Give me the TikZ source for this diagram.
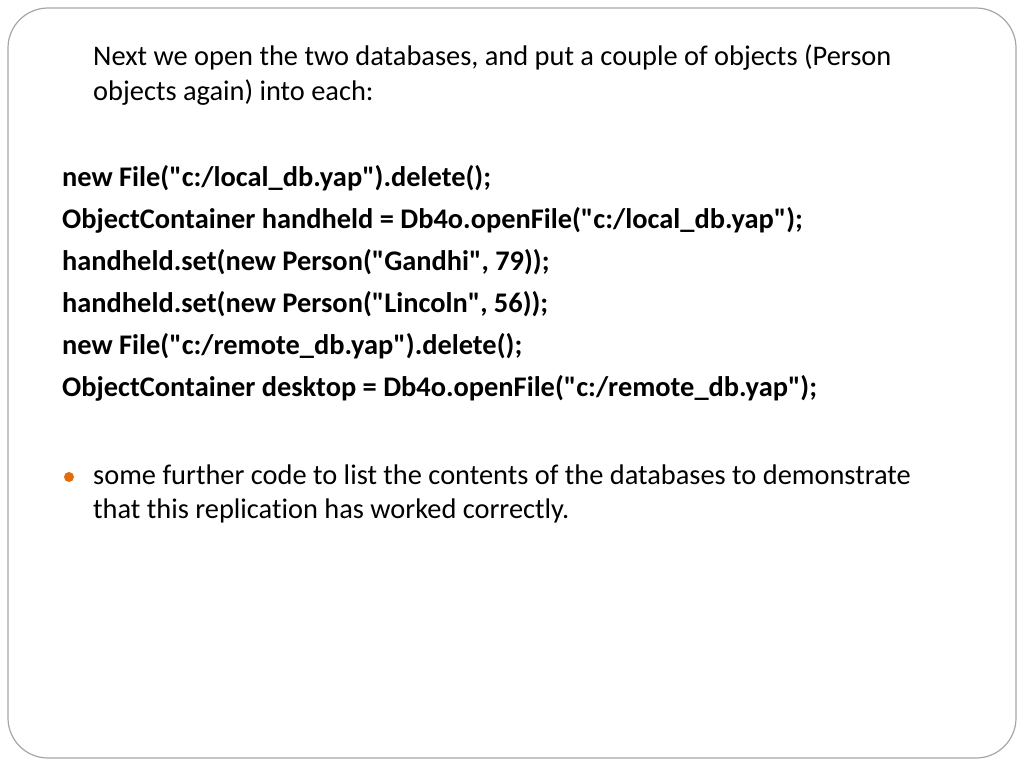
\documentclass[tikz,border=0pt]{standalone}
\usepackage{fontspec}
\setmainfont{Carlito}[Ligatures={TeXOff,NoCommon}]
\definecolor{bul}{RGB}{228,108,10}
\begin{document}
\begin{tikzpicture}[x=1pt,y=-1pt,
  txt/.style={anchor=base west,inner sep=0pt,font=\fontsize{28.4}{34}\selectfont},
  code/.style={txt,font=\fontsize{28.4}{34}\selectfont\bfseries}]
\useasboundingbox (0,0) rectangle (1024,768);
\draw[gray!70,line width=1.2] (8,8) [rounded corners=40] rectangle (1016,758);
\node[txt] (t1) at (93,66) {Next we open the two databases, and put a couple of objects (Person};
\node[txt] (t2) at (93,100) {objects again) into each:};
\node[code] (c1) at (62,186) {new File("c:/local\_db.yap").delete();};
\node[code] (c2) at (62,228) {ObjectContainer handheld = Db4o.openFile("c:/local\_db.yap");};
\node[code] (c3) at (62,270) {handheld.set(new Person("Gandhi", 79));};
\node[code] (c4) at (62,312) {handheld.set(new Person("Lincoln", 56));};
\node[code] (c5) at (62,354) {new File("c:/remote\_db.yap").delete();};
\node[code] (c6) at (62,396) {ObjectContainer desktop = Db4o.openFile("c:/remote\_db.yap");};
\fill[bul] (69,477) circle (5);
\node[txt] (b1) at (93,484) {some further code to list the contents of the databases to demonstrate};
\node[txt] (b2) at (93,518) {that this replication has worked correctly.};
\end{tikzpicture}
\end{document}
